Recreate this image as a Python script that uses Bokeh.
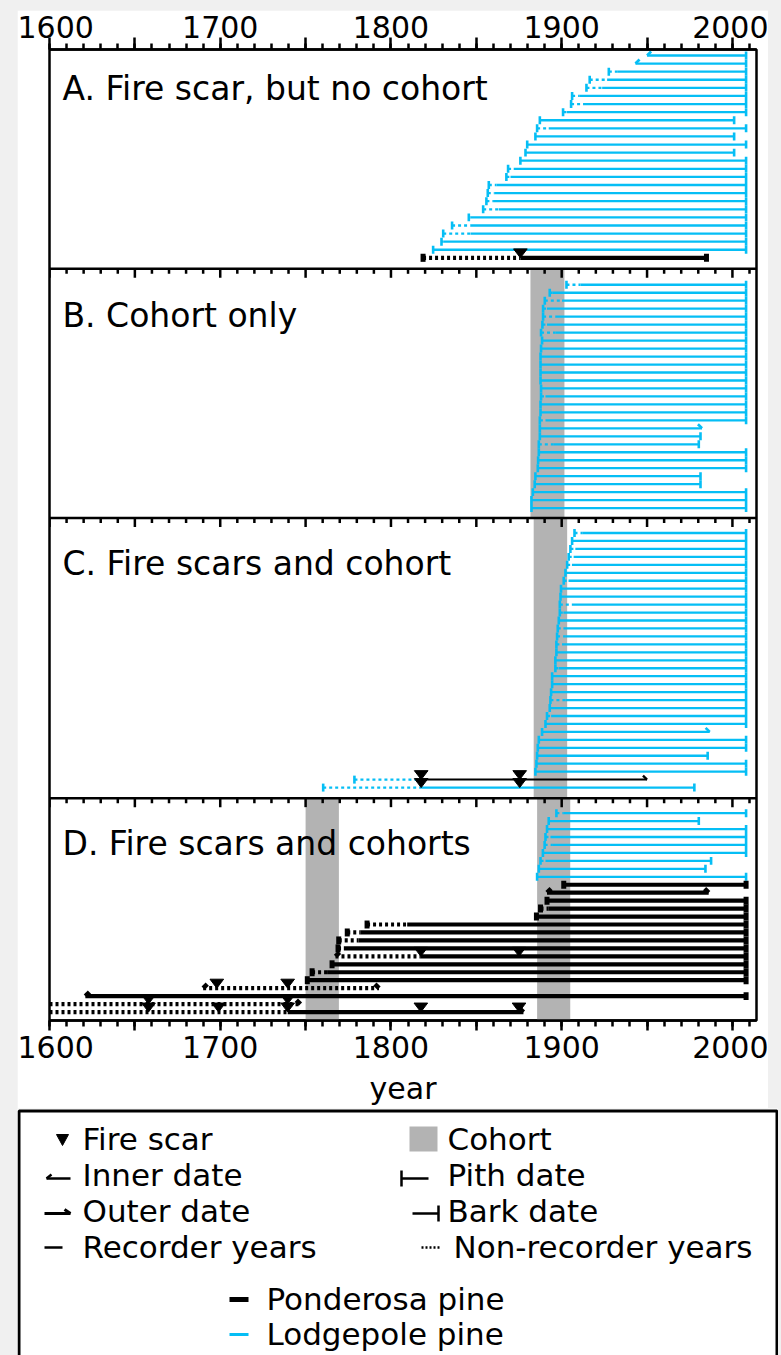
from collections import defaultdict
from bokeh.plotting import figure
from bokeh.models import Range1d, FixedTicker, LinearAxis, Label
from bokeh.layouts import column
from bokeh.embed import file_html
from bokeh.resources import INLINE

BLUE = "#05BEF5"
COHORT = "#B3B3B3"
FONT = "DejaVu Sans"

# ---------------- data ----------------
major_ticks = [1600, 1650, 1700, 1750, 1800, 1850, 1900, 1950, 2000]
minor_ticks = list(range(1600, 2011, 10))
tick_labels = {1600: "1600", 1650: "", 1700: "1700", 1750: "", 1800: "1800",
               1850: "", 1900: "1900", 1950: "", 2000: "2000"}

panel_titles = ["A. Fire scar, but no cohort", "B.  Cohort only",
                "C.  Fire scars and cohort", "D.  Fire scars and cohorts"]

# Panel A
A_species = ["L"] * 25 + ["P"]
A_start = [1950.0, 1943.2, 1927.6, 1916.4, 1914.5, 1906.1, 1905.5, 1900.8, 1887.2, 1885.6,
           1884.6, 1879.8, 1878.8, 1875.8, 1868.6, 1867.6, 1857.3, 1856.7, 1855.9, 1854.0,
           1845.6, 1835.8, 1830.6, 1829.6, 1824.7, 1818.8]
A_start_type = ["inner", "inner"] + ["pith"] * 24
A_rec = [1950.0, 1943.2, 1932.5, 1926.6, 1923.7, 1910.6, 1912.5, 1902.8, 1887.2, 1892.4,
         1884.6, 1879.8, 1878.8, 1875.8, 1871.9, 1870.0, 1861.8, 1860.8, 1859.8, 1863.1,
         1846.6, 1846.6, 1846.6, 1830.6, 1824.7, 1875.8]
A_end = [2008] * 8 + [2001, 2008, 2001, 2008, 2001] + [2008] * 12 + [1984.8]
A_end_type = ["bark"] * 26
A_scars = [[]] * 25 + [[1875.8]]

# Panel B
B_species = ["L"] * 29
B_start = [1902.8, 1893.0, 1890.1, 1889.1, 1889.1, 1888.7, 1887.9, 1888.5, 1887.9, 1887.6,
           1887.6, 1887.6, 1887.6, 1887.9, 1887.9, 1887.6, 1887.6, 1887.2, 1887.2, 1887.2,
           1886.6, 1886.6, 1886.2, 1886.0, 1884.6, 1884.2, 1883.1, 1882.3, 1882.3]
B_start_type = ["pith"] * 29
B_rec = [1911.0, 1894.5, 1900.2, 1891.4, 1896.3, 1891.4, 1896.3, 1888.5, 1887.9, 1887.6,
         1887.6, 1887.6, 1887.6, 1887.9, 1890.5, 1887.6, 1887.6, 1890.5, 1887.2, 1887.2,
         1895.4, 1886.6, 1886.2, 1886.0, 1884.6, 1884.2, 1883.1, 1882.3, 1882.3]
B_end = [2008] * 18 + [1982.2, 1981.3, 1980.3, 2008, 2008, 2008, 1981.3, 1981.3, 2008, 2008, 2008]
B_end_type = ["bark"] * 18 + ["outer"] + ["bark"] * 10
B_scars = [[]] * 29

# Panel C
C_species = ["L"] * 31 + ["LP", "L"]
C_start = [1907.5, 1906.1, 1905.1, 1904.1, 1903.2, 1902.2, 1901.2, 1899.6, 1899.3, 1898.9,
           1898.9, 1898.3, 1897.7, 1897.3, 1896.9, 1896.9, 1896.3, 1896.3, 1894.4, 1894.4,
           1893.8, 1893.4, 1893.0, 1891.4, 1890.5, 1888.5, 1886.6, 1886.0, 1885.6, 1885.2,
           1884.6, 1778.6, 1760.3]
C_start_type = ["pith"] * 33
C_rec = [1912.0, 1906.1, 1908.0, 1907.0, 1906.0, 1902.2, 1904.0, 1899.6, 1899.3, 1906.0,
         1901.0, 1898.3, 1901.0, 1902.0, 1900.2, 1896.9, 1896.3, 1898.3, 1894.4, 1894.4,
         1893.8, 1902.2, 1893.0, 1893.8, 1890.5, 1888.5, 1886.6, 1886.0, 1885.6, 1885.2,
         1884.6, 1817.7, 1817.7]
C_end = [2008] * 25 + [1986.7, 2008, 2008, 1985.5, 2008, 2008, 1950.0, 1977.7]
C_end_type = ["bark"] * 25 + ["outer", "bark", "bark", "bark", "bark", "bark", "outer", "bark"]
C_scars = [[]] * 31 + [[1817.7, 1875.4], [1817.7, 1875.4]]

# Panel D
D_species = ["L"] * 9 + ["P"] * 17
D_start = [1896.9, 1892.4, 1891.4, 1890.5, 1890.0, 1889.0, 1887.6, 1886.6, 1885.6, 1901.2,
           1891.4, 1891.4, 1887.6, 1885.2, 1786.0, 1774.4, 1769.4, 1769.0, 1767.5, 1765.5,
           1753.8, 1751.0, 1690.0, 1621.0, 1600.0, 1600.0]
D_start_type = ["pith"] * 10 + ["inner"] + ["pith"] * 7 + ["inner", "pith", "pith", "pith",
                                                          "inner", "inner", "none", "none"]
D_rec = [1901.2, 1892.4, 1891.4, 1893.4, 1894.4, 1889.0, 1890.5, 1886.6, 1885.6, 1901.2,
         1891.4, 1891.4, 1892.4, 1885.2, 1809.5, 1782.0, 1781.0, 1772.4, 1817.5, 1765.5,
         1762.6, 1751.0, 1793.0, 1621.0, 1747.0, 1739.5]
D_end = [2008, 1980.3, 2008, 2008, 2008, 2008, 1987.5, 1984.2, 2008, 2008,
         1986.1, 2008, 2008, 2008, 2008, 2008, 2008, 2008, 2008, 2008,
         2008, 2008, 1793.0, 2008, 1747.0, 1877.6]
D_end_type = ["bark"] * 10 + ["outer"] + ["bark"] * 11 + ["outer", "bark", "outer", "outer"]
D_scars = [[]] * 18 + [[1817.5, 1875.0]] + [[]] * 3 + [[1698.0, 1739.5], [],
                                                       [1658.0, 1739.5],
                                                       [1658.0, 1699.0, 1739.5, 1817.5, 1875.0]]

# cohort bands: panel index, start year, end year
cohort_panel = [1, 2, 3, 3]
cohort_start = [1881.7, 1883.6, 1750.0, 1885.6]
cohort_end = [1901.6, 1903.2, 1769.5, 1905.0]

# ---------------- layout (pixel geometry of the page) ----------------
panel_top = [49, 269, 519, 800]
panel_bottom = [269, 519, 800, 1023]
first_row = [55, 285, 534, 815]
row_step = [8.12, 8.0, 7.98, 7.98]

panels = [
    (A_species, A_start, A_start_type, A_rec, A_end, A_end_type, A_scars),
    (B_species, B_start, B_start_type, B_rec, B_end, B_end_type, B_scars),
    (C_species, C_start, C_start_type, C_rec, C_end, C_end_type, C_scars),
    (D_species, D_start, D_start_type, D_rec, D_end, D_end_type, D_scars),
]

segs = defaultdict(lambda: {"x0": [], "y0": [], "x1": [], "y1": []})
tri_xs, tri_ys = [], []

BW = 2.3      # lodgepole width
PW = 4.2      # ponderosa width
BARB_X = 2.4  # years
BARB_Y = 4.0  # px


def add(key, x0, y0, x1, y1):
    d = segs[key]
    d["x0"].append(x0); d["y0"].append(y0); d["x1"].append(x1); d["y1"].append(y1)


for k, (sp, st, stt, rc, en, ent, sc) in enumerate(panels):
    for i in range(len(sp)):
        y = first_row[k] + i * row_step[k]
        if sp[i] == "L":
            nc, nw, rcol, rw, mw = BLUE, BW, BLUE, BW, 2.6
        elif sp[i] == "P":
            nc, nw, rcol, rw, mw = "black", PW, "black", PW, 5.0
        else:  # lodgepole non-recorder, black recorder segment
            nc, nw, rcol, rw, mw = BLUE, BW, "black", 2.0, 2.6
        dash = "3 3"
        if rc[i] > st[i]:
            add((nc, nw, dash), st[i], y, rc[i], y)
        if en[i] > rc[i]:
            add((rcol, rw, "solid"), rc[i], y, en[i], y)
        # start marker
        if stt[i] == "pith":
            add((nc, mw, "solid"), st[i], y - 4, st[i], y + 4)
        elif stt[i] == "inner":
            add((nc, nw + 0.4, "solid"), st[i], y, st[i] + BARB_X, y - BARB_Y)
        # end marker
        ec, ew = (rcol, rw) if en[i] > rc[i] else (nc, nw)
        emw = mw if ec == nc else 2.6
        if ent[i] == "bark":
            add((ec, emw, "solid"), en[i], y - 4, en[i], y + 4)
        elif ent[i] == "outer":
            add((ec, ew + 0.4, "solid"), en[i], y, en[i] - BARB_X, y - BARB_Y)
        for s in sc[i]:
            tri_xs.append([s - 4.0, s + 4.0, s])
            tri_ys.append([y - 9, y - 9, y])

# ---------------- main figure ----------------
p = figure(width=751, height=1098, x_range=Range1d(1600, 2014.1), y_range=Range1d(1023, 49),
           output_backend="svg", toolbar_location=None,
           min_border_left=32, min_border_right=12, min_border_top=39, min_border_bottom=85,
           x_axis_location="below", y_axis_location=None)
p.margin = (10, 0, 0, 17)
p.grid.visible = False
p.outline_line_color = "black"
p.outline_line_width = 2.5
p.background_fill_color = "white"
p.border_fill_color = "white"

ticker = FixedTicker(ticks=major_ticks, minor_ticks=minor_ticks)


def style_axis(ax, tick_out, minor_out, standoff):
    ax.ticker = ticker
    ax.major_label_overrides = tick_labels
    ax.major_tick_in = 0
    ax.minor_tick_in = 0
    ax.major_tick_out = tick_out
    ax.minor_tick_out = minor_out
    ax.major_tick_line_width = 2.5
    ax.minor_tick_line_width = 2.5
    ax.axis_line_width = 2.5
    ax.major_label_text_font = FONT
    ax.major_label_text_font_size = "30px"
    ax.major_label_text_color = "black"
    ax.major_label_standoff = standoff


style_axis(p.xaxis[0], 10, 6, 5)
p.xaxis[0].axis_label = "year"
p.xaxis[0].axis_label_text_font = FONT
p.xaxis[0].axis_label_text_font_size = "30px"
p.xaxis[0].axis_label_text_font_style = "normal"
p.xaxis[0].axis_label_text_color = "black"
p.xaxis[0].axis_label_standoff = 10

top_axis = LinearAxis()
style_axis(top_axis, 12, 6, 0)
p.add_layout(top_axis, "above")

# cohort bands
p.quad(left=cohort_start, right=cohort_end,
       top=[panel_top[c] for c in cohort_panel], bottom=[panel_bottom[c] for c in cohort_panel],
       fill_color=COHORT, line_color=None)

# separators between panels
p.segment(x0=[1600] * 3, x1=[2014.1] * 3, y0=panel_top[1:], y1=panel_top[1:],
          line_color="black", line_width=2.5)

# inner tick marks on panel tops
itx, ity0, ity1 = [], [], []
for b in panel_top[1:]:
    for t in minor_ticks:
        itx.append(t); ity0.append(b); ity1.append(b + (9 if t in major_ticks else 5))
p.segment(x0=itx, x1=itx, y0=ity0, y1=ity1, line_color="black", line_width=2.5)

# tree lines
order = sorted(segs.keys(), key=lambda k: (k[2] == "solid", k[0] == "black"))
for key in order:
    col, w, dash = key
    d = segs[key]
    p.segment(x0=d["x0"], y0=d["y0"], x1=d["x1"], y1=d["y1"], line_color=col,
              line_width=w, line_dash=dash, line_cap="butt")

p.patches(xs=tri_xs, ys=tri_ys, fill_color="black", line_color="black", line_width=1)

title_y = [88, 316, 565, 845]
for t, yy in zip(panel_titles, title_y):
    p.add_layout(Label(x=1607.6, y=yy, text=t, text_font=FONT, text_font_size="33px",
                       text_baseline="alphabetic", text_color="black"))

# ---------------- legend figure ----------------
lg = figure(width=761, height=247, x_range=Range1d(17, 778), y_range=Range1d(1355, 1108),
            output_backend="svg", toolbar_location=None, min_border=0,
            min_border_left=0, min_border_right=0, min_border_top=0, min_border_bottom=0,
            x_axis_location=None, y_axis_location=None, outline_line_color=None)
lg.margin = (0, 0, 0, 17)
lg.grid.visible = False
lg.background_fill_color = "white"
lg.border_fill_color = "white"
try:
    p.frame_align = False
    lg.frame_align = False
except AttributeError:
    pass

lg.line(x=[18.5, 18.5, 776.5, 776.5], y=[1360, 1110.5, 1110.5, 1360], line_color="black",
        line_width=3)

legend_left = ["Fire scar", "Inner date", "Outer date", "Recorder years"]
legend_right = ["Cohort", "Pith date", "Bark date", "Non-recorder years"]
legend_species = ["Ponderosa pine", "Lodgepole pine"]
row_y = [1138, 1174, 1210, 1246]
for t, yy in zip(legend_left, row_y):
    lg.add_layout(Label(x=82, y=yy, text=t, text_font=FONT, text_font_size="31px",
                        text_baseline="middle", text_color="black"))
for t, yy, xx in zip(legend_right, row_y, [447, 447, 447, 453]):
    lg.add_layout(Label(x=xx, y=yy, text=t, text_font=FONT, text_font_size="31px",
                        text_baseline="middle", text_color="black"))
for t, yy in zip(legend_species, [1298, 1333]):
    lg.add_layout(Label(x=266, y=yy, text=t, text_font=FONT, text_font_size="31px",
                        text_baseline="middle", text_color="black"))

# symbols
lg.patch(x=[56, 68, 62], y=[1134, 1134, 1145], fill_color="black", line_color="black")
lg.quad(left=[409], right=[437], top=[1126], bottom=[1151], fill_color=COHORT, line_color=None)
lg.segment(x0=[46, 46], y0=[1178, 1178], x1=[70, 51], y1=[1178, 1174], line_color="black",
           line_width=2.5)
lg.segment(x0=[401, 401], y0=[1170, 1178], x1=[401, 428], y1=[1186, 1178], line_color="black",
           line_width=2.5)
lg.segment(x0=[44, 70], y0=[1213, 1213], x1=[70, 64], y1=[1213, 1209], line_color="black",
           line_width=3)
lg.segment(x0=[412, 438], y0=[1213, 1205], x1=[438, 438], y1=[1213, 1221], line_color="black",
           line_width=2.5)
lg.segment(x0=[44], y0=[1247], x1=[62], y1=[1247], line_color="black", line_width=2.5)
lg.segment(x0=[421], y0=[1247], x1=[441], y1=[1247], line_color="black", line_width=2.5,
           line_dash="2 2")
lg.segment(x0=[229], y0=[1299], x1=[248], y1=[1299], line_color="black", line_width=5)
lg.segment(x0=[229], y0=[1334], x1=[248], y1=[1334], line_color=BLUE, line_width=3)

layout = column(p, lg, spacing=0,
                styles={"background-color": "#f0f0f0", "width": "781px", "height": "1355px"})

open("out.html", "w").write(file_html(layout, INLINE))
